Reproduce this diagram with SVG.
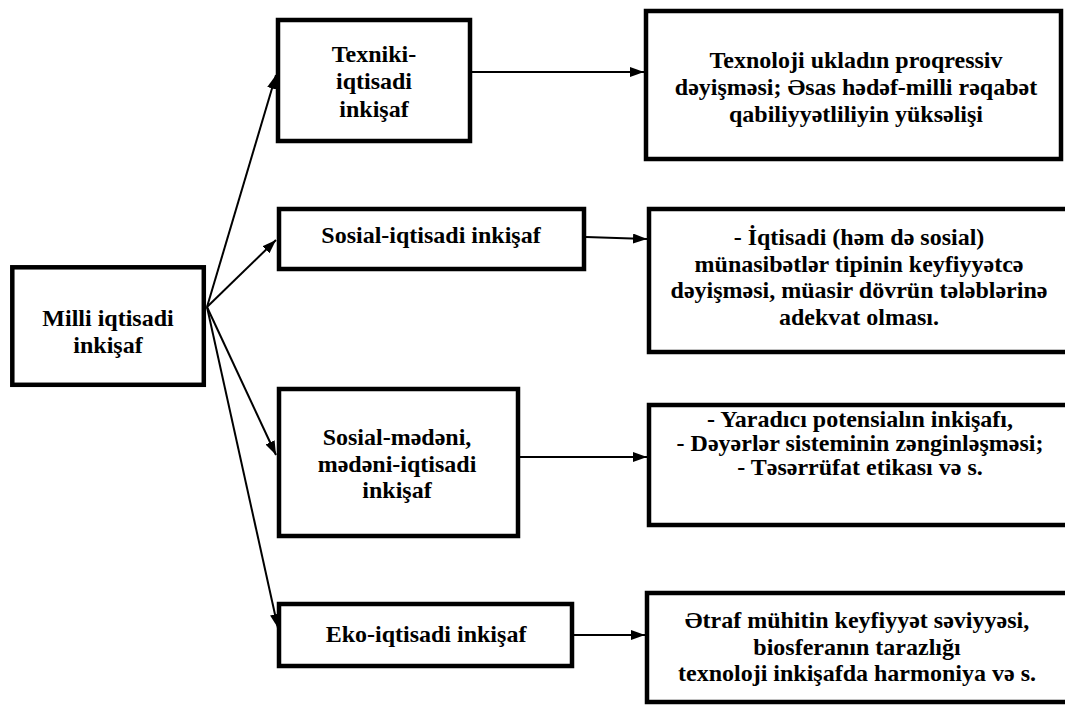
<svg xmlns="http://www.w3.org/2000/svg" width="1065" height="708" viewBox="0 0 1065 708">
<defs>
<style>
.box{fill:#fff;stroke:#000;stroke-width:4.5}
.t{font-family:"Liberation Serif","Times New Roman",serif;font-weight:700;font-size:24px;fill:#000;text-anchor:middle}
.c{stroke:#000;stroke-width:2;fill:none;marker-end:url(#ah)}
</style>
<marker id="ah" viewBox="0 0 14 10" refX="14" refY="5" markerWidth="14" markerHeight="10" markerUnits="userSpaceOnUse" orient="auto">
<path d="M0,0 L14,5 L0,10 Z" fill="#000"/>
</marker>
</defs>
<rect width="1065" height="708" fill="#fff"/>
<g id="connectors">
<line class="c" x1="207" y1="307" x2="276" y2="75"/>
<line class="c" x1="207" y1="307" x2="276" y2="240"/>
<line class="c" x1="207" y1="307" x2="276" y2="455"/>
<line class="c" x1="207" y1="307" x2="278" y2="628"/>
<line class="c" x1="472" y1="72" x2="644" y2="72"/>
<line class="c" x1="586" y1="237" x2="647" y2="239"/>
<line class="c" x1="520" y1="457" x2="647" y2="457"/>
<line class="c" x1="574" y1="635" x2="645" y2="635"/>
</g>
<g id="n1">
<rect class="box" x="12.3" y="267.3" width="191.5" height="117.5"/>
<text class="t" x="108" y="326">Milli iqtisadi</text>
<text class="t" x="108" y="353">inkişaf</text>
</g>
<g id="n2">
<rect class="box" x="278" y="20" width="192" height="121"/>
<text class="t" x="374" y="62">Texniki-</text>
<text class="t" x="374" y="89">iqtisadi</text>
<text class="t" x="374" y="117">inkişaf</text>
</g>
<g id="n3">
<rect class="box" x="646" y="11" width="415" height="148"/>
<text class="t" x="856" y="68">Texnoloji ukladın proqressiv</text>
<text class="t" x="856" y="95">dəyişməsi; Əsas hədəf-milli rəqabət</text>
<text class="t" x="856" y="122">qabiliyyətliliyin yüksəlişi</text>
</g>
<g id="n4">
<rect class="box" x="279" y="209" width="305" height="60"/>
<text class="t" x="431" y="243">Sosial-iqtisadi inkişaf</text>
</g>
<g id="n5">
<rect class="box" x="649" y="209" width="430" height="143"/>
<text class="t" x="859" y="245">- İqtisadi (həm də sosial)</text>
<text class="t" x="859" y="272">münasibətlər tipinin keyfiyyətcə</text>
<text class="t" x="859" y="298">dəyişməsi, müasir dövrün tələblərinə</text>
<text class="t" x="859" y="325">adekvat olması.</text>
</g>
<g id="n6">
<rect class="box" x="279" y="389" width="239" height="147"/>
<text class="t" x="397" y="445">Sosial-mədəni,</text>
<text class="t" x="397" y="472">mədəni-iqtisadi</text>
<text class="t" x="397" y="498">inkişaf</text>
</g>
<g id="n7">
<rect class="box" x="649" y="405" width="430" height="120"/>
<text class="t" x="860" y="427">- Yaradıcı potensialın inkişafı,</text>
<text class="t" x="860" y="451">- Dəyərlər sisteminin zənginləşməsi;</text>
<text class="t" x="860" y="475">- Təsərrüfat etikası və s.</text>
</g>
<g id="n8">
<rect class="box" x="279" y="604" width="293" height="62"/>
<text class="t" x="426" y="642">Eko-iqtisadi inkişaf</text>
</g>
<g id="n9">
<rect class="box" x="647" y="593" width="430" height="109"/>
<text class="t" x="857" y="628">Ətraf mühitin keyfiyyət səviyyəsi,</text>
<text class="t" x="857" y="655">biosferanın tarazlığı</text>
<text class="t" x="857" y="681">texnoloji inkişafda harmoniya və s.</text>
</g>
</svg>
